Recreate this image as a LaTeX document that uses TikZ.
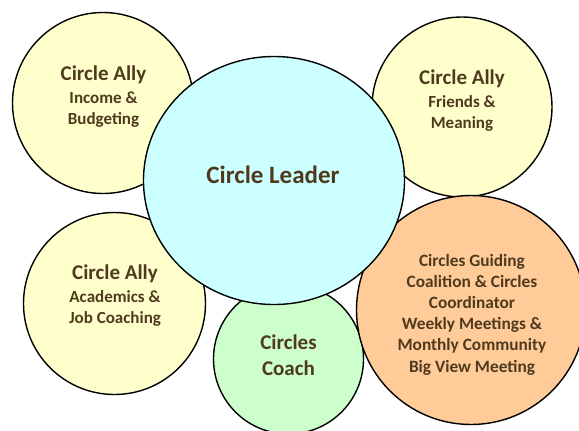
\documentclass[tikz,border=0pt]{standalone}
\usepackage{fontspec}
\setmainfont{Carlito}
\usetikzlibrary{shapes.geometric}
\definecolor{txtbrown}{RGB}{79,58,30}
\definecolor{leaderfill}{RGB}{204,255,255}
\definecolor{allyfill}{RGB}{255,255,204}
\definecolor{coachfill}{RGB}{204,255,204}
\definecolor{guidefill}{RGB}{255,204,153}
\begin{document}
\begin{tikzpicture}[x=1pt,y=-1pt,
  bubble/.style={circle, draw=black, line width=1.4pt, inner sep=0pt},
  lbl/.style={text=txtbrown, align=center, inner sep=0pt, anchor=base},
  allytxt/.style={lbl, font=\bfseries\fontsize{17}{21}\selectfont}]
\useasboundingbox (0,0) rectangle (579,431);
\clip (0,0) rectangle (579,431);
% circles
\node[bubble, fill=allyfill, minimum size=181pt] (tl) at (103,103) {};
\node[bubble, fill=allyfill, minimum size=180pt] (tr) at (462,107) {};
\node[bubble, fill=allyfill, minimum size=182pt] (bl) at (114.5,303.5) {};
\node[bubble, fill=coachfill, minimum size=150pt] (coach) at (288.5,359) {};
\node[bubble, fill=guidefill, minimum size=229pt] (guide) at (471,310) {};
\node[ellipse, draw=black, line width=1.4pt, fill=leaderfill, inner sep=0pt,
      minimum width=261pt, minimum height=248pt] (leader) at (274,180.5) {};
% texts (anchor = baseline of last line)
\node[allytxt] (tltext) at (103.5,124) {{\fontsize{21}{21}\selectfont Circle Ally}\\[2pt]Income \&\\Budgeting};
\node[allytxt] (trtext) at (462,128) {{\fontsize{21}{21}\selectfont Circle Ally}\\[2pt]Friends \&\\Meaning};
\node[allytxt] (bltext) at (115,323) {{\fontsize{21}{21}\selectfont Circle Ally}\\[2pt]Academics \&\\Job Coaching};
\node[lbl, font=\bfseries\fontsize{25}{25}\selectfont] (leadertext) at (273,183) {Circle Leader};
\node[lbl, font=\bfseries\fontsize{21}{26}\selectfont] (coachtext) at (288.5,375) {Circles\\Coach};
\node[lbl, font=\bfseries\fontsize{17.3}{21.2}\selectfont] (guidetext) at (472,372) {Circles Guiding\\Coalition \& Circles\\Coordinator\\Weekly Meetings \&\\Monthly Community\\Big View Meeting};
\end{tikzpicture}
\end{document}
